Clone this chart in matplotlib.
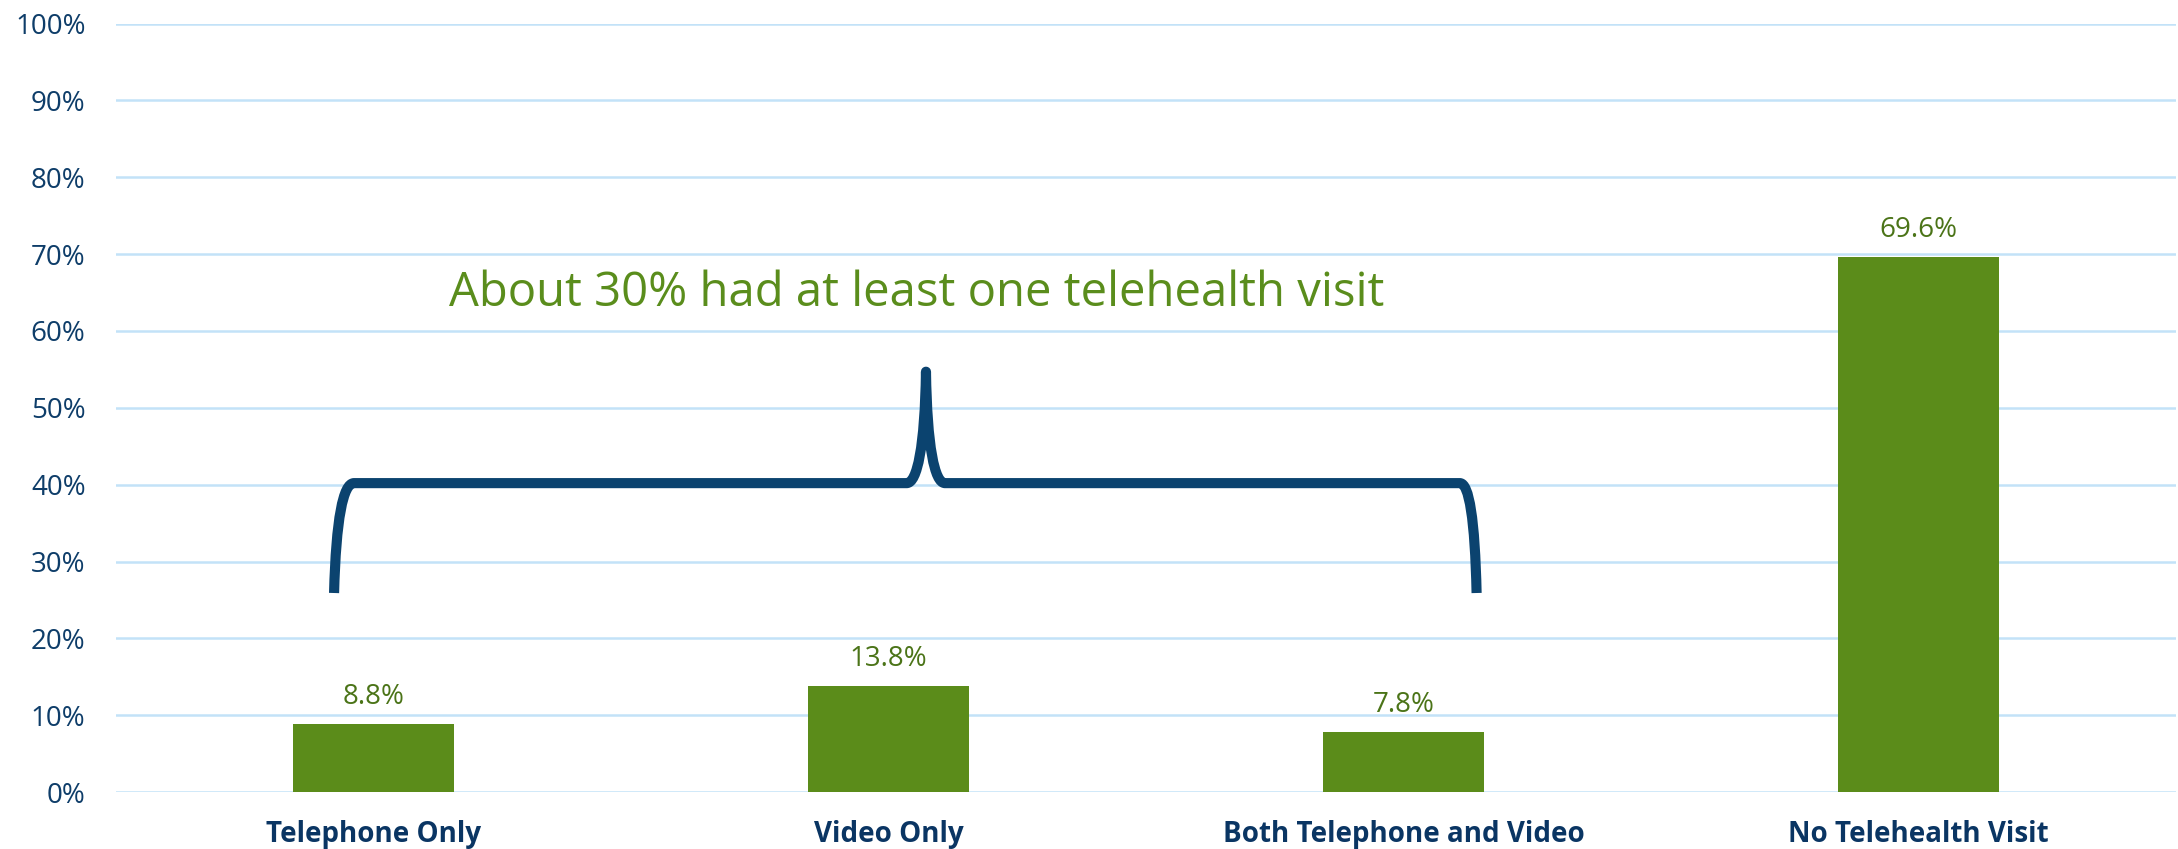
import matplotlib
matplotlib.use('Agg')
from matplotlib import pyplot as plt
from matplotlib.path import Path
import matplotlib.patches as mpatches
import numpy as np

plt.rcParams['font.family'] = ['Open Sans', 'DejaVu Sans']

categories = ["Telephone Only", "Video Only", "Both Telephone and Video", "No Telehealth Visit"]
shares = [8.8, 13.8, 7.8, 69.6]
yticks = [0, 10, 20, 30, 40, 50, 60, 70, 80, 90, 100]
note = "About 30% had at least one telehealth visit"

bar_green = '#5B8C1A'
label_green = '#4B7418'
note_green = '#5A8D1C'
navy = '#0E3D69'
bracket_navy = '#0B436F'
grid_blue = '#C3E2F8'

fig = plt.figure(figsize=(21.78, 8.49), dpi=100)
ax = fig.add_axes([0.0533, 0.0671, 0.9457, 0.9051])

x = np.arange(len(categories))
bars = ax.bar(x, shares, 0.3125, color=bar_green, zorder=3)

for b, v in zip(bars, shares):
    ax.annotate('%.1f%%' % v, (b.get_x() + b.get_width() / 2, v),
                xytext=(0, 14.5), textcoords='offset points',
                ha='center', va='baseline', fontsize=20, color=label_green)

ax.set_xlim(-0.5, len(categories) - 0.5)
ax.set_ylim(0, 100)
ax.set_yticks(yticks)
ax.set_yticklabels(['%d%%' % t for t in yticks], fontsize=20, color=navy)
ax.set_xticks(x)
ax.set_xticklabels(categories, fontsize=20, fontweight='bold', color='#0A3563')
ax.tick_params(axis='y', length=0, pad=22)
ax.tick_params(axis='x', length=0, pad=20)
ax.grid(axis='y', color=grid_blue, linewidth=1.8, zorder=0)
ax.set_axisbelow(True)
for s in ax.spines.values():
    s.set_visible(False)

# curly bracket over the first three bars
xl, xr = -0.0767, 2.1421      # leg bottoms
xcl, xcr = -0.0379, 2.1097    # corners
pl, pk, pr = 1.0353, 1.0728, 1.1097
yb, yh, yp = 25.9, 40.2, 54.7
verts = [
    (xl, yb),
    (xl + 0.1 * (xcl - xl), 35.5), (xl + 0.45 * (xcl - xl), yh), (xcl, yh),
    (pl, yh),
    (pl + 0.55 * (pk - pl), yh), (pk - 0.06 * (pk - pl), 45.0), (pk, yp),
    (pk + 0.06 * (pr - pk), 45.0), (pr - 0.55 * (pr - pk), yh), (pr, yh),
    (xcr, yh),
    (xcr + 0.55 * (xr - xcr), yh), (xr - 0.1 * (xr - xcr), 35.5), (xr, yb),
]
codes = [Path.MOVETO,
         Path.CURVE4, Path.CURVE4, Path.CURVE4,
         Path.LINETO,
         Path.CURVE4, Path.CURVE4, Path.CURVE4,
         Path.CURVE4, Path.CURVE4, Path.CURVE4,
         Path.LINETO,
         Path.CURVE4, Path.CURVE4, Path.CURVE4]
brace = mpatches.PathPatch(Path(verts, codes), facecolor='none', edgecolor=bracket_navy,
                           linewidth=7.3, joinstyle='round', capstyle='butt', zorder=4)
ax.add_patch(brace)

ax.text(1.054, 63.2, note, ha='center', va='baseline', fontsize=34, color=note_green)

fig.savefig('out.png', dpi=100)
